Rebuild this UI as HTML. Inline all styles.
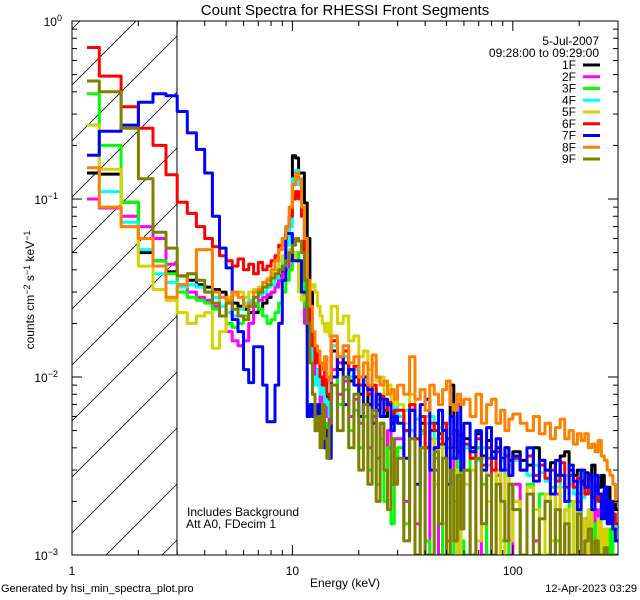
<!DOCTYPE html>
<html><head><meta charset="utf-8">
<style>
html,body{margin:0;padding:0;background:#fff;width:640px;height:600px;overflow:hidden;}
svg{display:block;font-family:"Liberation Sans",sans-serif;}
</style></head>
<body>
<svg id="chart" width="640" height="600" viewBox="0 0 640 600" xmlns="http://www.w3.org/2000/svg">
<rect x="0" y="0" width="640" height="600" fill="#fff"/>
<text x="345" y="15" font-size="15" text-anchor="middle">Count Spectra for RHESSI Front Segments</text>
<defs><clipPath id="plotclip"><rect x="72" y="21" width="546" height="534"/></clipPath></defs>
<g id="hatch" clip-path="url(#plotclip)"></g>
<line x1="177" y1="21" x2="177" y2="555" stroke="#000" stroke-width="1"/>
<g id="series" clip-path="url(#plotclip)"></g>
<rect x="72" y="21" width="546" height="534" fill="none" stroke="#000" stroke-width="1"/>
<g id="axes"></g>
<text x="345" y="587" font-size="12" text-anchor="middle">Energy (keV)</text>
<text transform="translate(34,290) rotate(-90)" font-size="12" text-anchor="middle">counts cm<tspan dy="-4" font-size="9">−2</tspan><tspan dy="4"> s</tspan><tspan dy="-4" font-size="9">−1</tspan><tspan dy="4"> keV</tspan><tspan dy="-4" font-size="9">−1</tspan></text>
<text x="187" y="516" font-size="12">Includes Background</text>
<text x="186" y="528" font-size="12">Att A0, FDecim 1</text>
<text x="599" y="45" font-size="12" text-anchor="end">5-Jul-2007</text>
<text x="599" y="57" font-size="12" text-anchor="end">09:28:00 to 09:29:00</text>
<g id="legend"></g>
<text x="1" y="592" font-size="11">Generated by hsi_min_spectra_plot.pro</text>
<text x="637" y="592" font-size="11" text-anchor="end">12-Apr-2023 03:29</text>
</svg>
<script>
const UNIT = 1e-4;
const segmentNames = ["1F","2F","3F","4F","5F","6F","7F","8F","9F"];
const segmentColors = ["#000000","#ff00ff","#00ff00","#00ffff","#d4d400","#ff0000","#0000ff","#ff8000","#7f7f00"];
const xTickValues = [1,10,100];
const xTickLabels = ["1","10","100"];
const yTickExponents = [0,-1,-2,-3];
const s1F = [1400,1380,960,500,450,390,
 370,350,330,320,310,300,280,260,250,240,230,230,240,260,280,300,330,370,420,600,800,1750,1700,1400,1400,950,600,300,100,110,100,90,100,80,75,70,
 140,110,120,95,100,80,90,70,85,65,75,60,70,55,65,
 60,50,65,45,55,40,50,55,48,42,55,90,50,42,48,
 45,40,48,36,44,38,40,35,40,34,
 38,34,32,40,34,30,33,28,36,38,30,28,30,26,29,27,32,25,24,28,22,24,19,20,18];
const s2F = [1000,890,800,700,600,430,
 330,300,280,270,250,220,180,160,150,160,200,250,270,280,290,300,320,350,380,400,450,500,450,400,300,200,180,150,120,90,100,70,80,60,70,50,
 110,80,95,60,75,55,70,40,60,35,55,30,50,25,45,
 45,20,50,15,40,10,45,30,8,40,12,35,20,9,30,
 30,9,40,8,35,10,28,12,30,7,
 25,8,22,12,9,20,7,22,9,18,10,8,20,7,16,9,8,18,10,7,14,8,12,9,8];
const s3F = [3900,2000,960,600,450,380,
 300,280,270,260,240,220,200,190,200,220,250,260,240,220,200,210,230,260,300,350,400,480,500,450,350,250,200,120,80,55,70,45,40,55,35,40,
 100,70,85,50,65,40,60,30,55,25,45,20,40,15,35,
 40,15,45,10,50,12,8,35,45,9,40,8,30,42,12,
 8,35,40,25,9,7,30,12,8,25,
 20,9,25,8,22,10,24,12,8,18,20,9,22,8,12,18,9,15,8,12,10,7,14,9,10];
const s4F = [2600,1100,740,520,380,340,
 320,330,320,300,280,250,230,220,240,260,270,280,290,300,320,330,360,400,450,550,700,1300,1450,1200,900,600,300,150,100,90,110,80,90,70,75,60,
 150,120,130,100,110,90,95,80,85,75,80,70,72,65,68,
 60,65,50,58,48,55,60,45,52,40,55,48,40,45,42,
 40,38,34,40,32,36,30,34,28,32,
 34,30,28,32,29,26,30,27,24,28,25,22,26,21,24,22,25,20,21,18,19,16,17,15,14];
const s5F = [2600,1470,700,420,310,270,
 230,200,220,230,145,180,280,290,300,280,300,310,320,340,360,380,400,450,480,500,520,500,450,300,270,280,300,320,330,300,250,220,200,180,200,170,
 250,200,220,160,170,130,140,110,120,95,100,80,90,70,75,
 70,55,80,45,40,60,45,25,40,15,35,12,30,9,28,
 25,30,12,35,20,8,30,10,28,12,
 20,9,24,18,8,22,12,24,9,18,8,20,10,16,8,18,12,8,16,9,14,8,10,9,8];
const s6F = [7100,4900,3300,2500,2000,1370,
 960,830,700,600,540,480,450,420,460,400,430,380,440,400,420,450,480,550,600,700,800,1000,1100,1000,800,500,300,200,150,120,140,100,90,110,80,75,
 160,120,140,110,115,90,100,80,90,70,78,65,72,60,65,
 65,50,70,45,60,40,55,50,42,55,45,40,50,38,42,
 42,35,45,32,40,30,38,30,36,28,
 35,30,36,28,32,27,30,26,33,24,28,24,27,25,22,27,21,24,20,22,18,20,16,17,15];
const s7F = [1760,2400,2600,3500,3900,3800,
 3100,2350,1900,1400,800,530,410,210,180,110,93,148,148,90,56,56,90,200,350,640,640,450,450,450,300,300,60,70,60,50,70,45,55,40,50,35,
 100,130,70,110,90,60,100,85,55,80,60,75,70,50,60,
 55,35,65,25,70,75,30,40,65,50,25,60,35,70,30,
 55,38,50,30,52,35,45,30,40,28,
 36,30,40,26,34,30,22,34,28,20,32,26,18,30,24,28,18,28,22,16,24,15,20,14,12];
const s8F = [1500,900,700,600,420,280,
 330,380,520,520,300,280,270,300,280,250,260,300,310,340,350,400,450,520,600,700,900,1200,1400,1300,900,600,350,250,180,150,140,120,110,130,100,95,
 170,130,150,120,130,100,120,90,133,100,90,95,80,85,75,
 90,80,130,75,85,65,90,80,70,85,95,70,65,80,70,
 75,60,80,55,70,75,55,65,50,58,
 62,55,50,60,48,55,45,52,58,45,50,42,48,44,48,40,42,38,44,36,34,30,28,25,20];
const s9F = [4600,4000,2500,1300,650,530,
 370,380,350,300,260,220,260,240,220,210,250,280,300,320,330,360,380,400,420,450,500,550,600,580,500,350,200,120,80,50,60,40,70,45,35,55,
 90,50,100,40,80,30,70,25,65,20,55,30,18,45,25,
 35,12,45,8,40,10,6,38,15,35,9,30,12,28,14,
 30,10,35,15,28,9,25,20,12,25,
 18,9,22,8,16,20,9,18,7,15,10,8,17,6,12,14,8,12,7,9,11,6,9,8,6];
const seriesValues = [s1F,s2F,s3F,s4F,s5F,s6F,s7F,s8F,s9F];

// energy bin edges (keV)
const energyEdges = [1.17,1.33,1.67,2.0,2.33,2.67];
for (let k=0;k<36;k++) energyEdges.push(3+k/3);
for (let e=15;e<30;e++) energyEdges.push(e);
for (let e=30;e<60;e+=2) energyEdges.push(e);
for (let e=60;e<100;e+=4) energyEdges.push(e);
for (let e=100;e<=300;e+=8) energyEdges.push(e);

const NS="http://www.w3.org/2000/svg";
const X0=72, X1=618, Y0=21, Y1=555;
const XMIN=0, XMAX=Math.log10(300);
function xScale(E){return Math.min(X1,X0+(Math.log10(E)-XMIN)/(XMAX-XMIN)*(X1-X0));}
function yScale(v){const l=Math.max(Math.log10(Math.max(v,1e-6)),-3);return Y0+(0-l)/3*(Y1-Y0);}
function mk(tag,attrs){const el=document.createElementNS(NS,tag);for(const k in attrs)el.setAttribute(k,attrs[k]);return el;}

const hatch=document.getElementById('hatch');
for(let c=29;c<=555+105;c+=56){
  const yA=Math.min(c,555), xA=72+(c-yA);
  const yB=Math.max(c-105,21), xB=72+(c-yB);
  if(xA>=xB) continue;
  const ln=mk('line',{x1:xA,y1:yA,x2:xB,y2:yB,stroke:'#000','stroke-width':0.8});
  
  
  hatch.appendChild(ln);
}

const sg=document.getElementById('series');
seriesValues.forEach((vals,i)=>{
  const n=Math.min(vals.length,energyEdges.length-1);
  let d='';
  for(let j=0;j<n;j++){
    const xa=xScale(energyEdges[j]).toFixed(1), xb=xScale(energyEdges[j+1]).toFixed(1);
    const y=yScale(vals[j]*UNIT).toFixed(1);
    d+=(j===0?'M':'L')+xa+','+y+'L'+xb+','+y;
  }
  const p=mk('path',{d:d,fill:'none',stroke:segmentColors[i],'stroke-width':3,'stroke-linejoin':'round'});
  
  
  sg.appendChild(p);
});

const ax=document.getElementById('axes');
for(let dec=1;dec<=100;dec*=10){
  for(let m=1;m<10;m++){
    const E=dec*m; if(E>300)break;
    const x=xScale(E); const len=(m===1)?10:5;
    ax.appendChild(mk('line',{x1:x,y1:Y1,x2:x,y2:Y1-len,stroke:'#000'}));
    ax.appendChild(mk('line',{x1:x,y1:Y0,x2:x,y2:Y0+len,stroke:'#000'}));
  }
}
xTickValues.forEach((v,i)=>{
  const t=mk('text',{x:xScale(v),y:575,'font-size':12,'text-anchor':'middle'});
  t.textContent=xTickLabels[i];
  
  
  ax.appendChild(t);
});
for(let e=-3;e<0;e++){
  for(let m=1;m<10;m++){
    const y=yScale(m*Math.pow(10,e)); const len=(m===1)?10:5;
    ax.appendChild(mk('line',{x1:X0,y1:y,x2:X0+len,y2:y,stroke:'#000'}));
    ax.appendChild(mk('line',{x1:X1,y1:y,x2:X1-len,y2:y,stroke:'#000'}));
  }
}
yTickExponents.forEach(e=>{
  const y=yScale(Math.pow(10,e));
  const t=mk('text',{x:e<0?58:62,y:y+5,'font-size':12,'text-anchor':'end'});
  t.textContent='10';
  const s=mk('tspan',{dy:-5,'font-size':9});
  s.textContent=e===0?'0':'−'+(-e);
  t.appendChild(s);
  
  
  ax.appendChild(t);
});

const lg=document.getElementById('legend');
segmentNames.forEach((nm,i)=>{
  const y=65+i*11.75;
  const t=mk('text',{x:576,y:y+4,'font-size':12,'text-anchor':'end'});
  t.textContent=nm;
  
  
  lg.appendChild(t);
  const l=mk('line',{x1:583,y1:y,x2:600,y2:y,stroke:segmentColors[i],'stroke-width':3});
  
  
  lg.appendChild(l);
});
</script>
</body></html>
